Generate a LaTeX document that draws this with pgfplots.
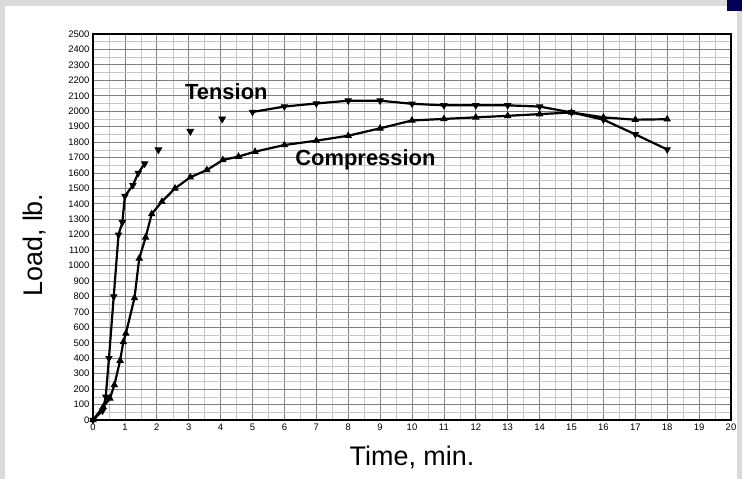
\documentclass[border=0pt]{standalone}
\usepackage{fontspec}
\setmainfont{Liberation Sans}
\usepackage{pgfplots}
\pgfplotsset{compat=1.18}

\begin{document}
\begin{tikzpicture}
\useasboundingbox (0bp,0bp) rectangle (742bp,479bp);
% scanned page background
\fill[black!14] (0bp,0bp) rectangle (742bp,479bp);
\fill[white] (5bp,0bp) rectangle (737bp,473bp);
\fill[blue!35!black] (727bp,468bp) rectangle (742bp,479bp);
\begin{axis}[
  at={(93bp,59bp)}, anchor=south west,
  scale only axis, width=638bp, height=386bp,
  xmin=0, xmax=20, ymin=0, ymax=2500,
  xtick distance=1, ytick distance=100,
  minor x tick num=1, minor y tick num=1,
  grid=both,
  major grid style={black!50, line width=0.8bp},
  minor grid style={black!22, line width=0.5bp},
  axis line style={line width=2bp},
  tick style={draw=none},
  tick label style={font=\fontsize{9.5}{9.5}\selectfont},
  /pgf/number format/assume math mode=true,
  /pgf/number format/1000 sep={},
  xlabel={Time, min.}, ylabel={Load, lb.},
  label style={font=\fontsize{27}{27}\selectfont},
  xlabel style={at={(axis description cs:0.5,-0.096)}, anchor=center},
  ylabel style={at={(axis description cs:-0.091,0.453)}, anchor=center},
]
% Tension, initial rise
\addplot[black, line width=2.2bp, mark=triangle*, mark options={rotate=180, line width=1bp}, mark size=3.4bp] coordinates {
(0,0)(0.3,60)(0.4,150)(0.5,400)(0.65,800)(0.8,1200)(0.92,1280)(1.0,1450)(1.25,1520)(1.42,1600)(1.62,1660)};
% Tension, isolated readings
\addplot[only marks, black, mark=triangle*, mark options={rotate=180, line width=0.6bp}, mark size=4bp] coordinates {
(2.05,1750)(3.05,1870)(4.05,1950)};
% Tension, plateau
\addplot[black, line width=2.2bp, mark=triangle*, mark options={rotate=180, line width=1bp}, mark size=3.4bp] coordinates {
(5,1995)(6,2030)(7,2050)(8,2068)(9,2068)(10,2048)(11,2038)(12,2038)(13,2038)(14,2030)(15,1992)(16,1945)(17,1850)(18,1752)};
% Compression
\addplot[black, line width=2.2bp, mark=triangle*, mark options={line width=1bp}, mark size=3.4bp] coordinates {
(0,0)(0.32,85)(0.53,140)(0.67,227)(0.85,385)(0.95,505)(1.03,560)(1.3,790)(1.45,1047)(1.65,1183)(1.84,1334)(2.16,1414)(2.57,1500)(3.05,1572)(3.57,1619)(4.07,1684)(4.56,1706)(5.08,1738)(6,1781)(7,1809)(8,1841)(9,1889)(10,1940)(11,1950)(12,1960)(13,1970)(14,1981)(15,1992)(16,1960)(17,1945)(18,1948)};
\node[font=\bfseries\fontsize{22}{22}\selectfont] at (axis cs:4.18,2124) {Tension};
\node[font=\bfseries\fontsize{22}{22}\selectfont] at (axis cs:8.54,1684) {Compression};
\end{axis}
\end{tikzpicture}
\end{document}
